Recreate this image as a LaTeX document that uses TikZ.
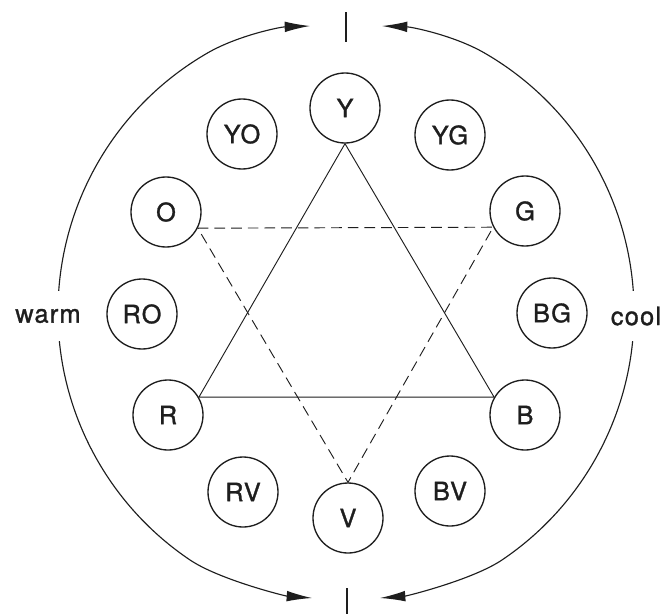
\documentclass[tikz,border=0pt]{standalone}
\usepackage{fontspec}
\setmainfont{TeX Gyre Heros}[LetterSpace=5,FakeBold=1.2]
\usetikzlibrary{arrows.meta}
\definecolor{ink}{HTML}{1E1E1E}
\begin{document}
\begin{tikzpicture}[x=0.75pt,y=-0.75pt,
  hue/.style={circle,draw=ink,line width=1pt,minimum size=52.5pt,inner sep=0pt,
    font=\fontsize{19}{20}\selectfont,text=ink},
  side/.style={fill=white,inner sep=1pt,minimum height=38pt,
    font=\fontsize{19}{20}\selectfont,text=ink},
  arcline/.style={draw=ink,line width=0.85pt,
    {Latex[length=19pt,width=8pt]}-{Latex[length=19pt,width=8pt]}},
  tick/.style={draw=ink,line width=1pt},
  tri/.style={draw=ink,line width=0.7pt},
  dtri/.style={tri,dash pattern=on 8pt off 4.5pt}]
\useasboundingbox[fill=white] (0,0) rectangle (667,614);

% outer arcs
\draw[arcline] (310,26) .. controls (280,27) and (237.8,35.5) .. (207.5,53)
  arc[start angle=240,end angle=124,radius=299]
  .. controls (219,579.6) and (285,596) .. (312,598);
\draw[arcline] (382,26) .. controls (412,27) and (454.2,35.5) .. (484.5,53)
  arc[start angle=-60,end angle=56,radius=299]
  .. controls (473,579.6) and (407,596) .. (380,598);

% ticks
\draw[tick] (346,12) -- (346,42);
\draw[tick] (347,588) -- (347,614);

% side labels
\node[side] (warm) at (48,316) {warm};
\node[side] (cool) at (636,316) {cool};

% hue circles
\node[hue] (Y)  at (345,108) {Y};
\node[hue] (YO) at (242,134) {YO};
\node[hue] (YG) at (450,135) {YG};
\node[hue] (O)  at (166,212) {O};
\node[hue] (G)  at (525,211) {G};
\node[hue] (RO) at (142,314) {RO};
\node[hue] (BG) at (552,313) {BG};
\node[hue] (R)  at (168,415) {R};
\node[hue] (B)  at (525,415) {B};
\node[hue] (RV) at (243,492) {RV};
\node[hue] (BV) at (450,491) {BV};
\node[hue] (V)  at (348,518) {V};

% primary triangle
\draw[tri] (Y.south) -- (R.30) -- (B.150) -- cycle;
% secondary triangle
\draw[dtri] (O.-27) -- (G.207) -- (V.north) -- cycle;
\end{tikzpicture}
\end{document}
